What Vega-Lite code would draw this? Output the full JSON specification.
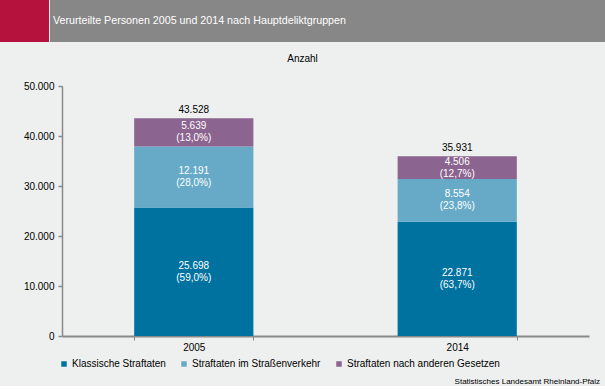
{
  "$schema": "https://vega.github.io/schema/vega-lite/v6.json",
  "background": "#eef0ef",
  "padding": 0,
  "config": {
    "font": "Liberation Sans",
    "view": {"stroke": null},
    "locale": {"number": {"decimal": ",", "thousands": ".", "grouping": [3], "currency": ["", " €"]}}
  },
  "title": {"text": "Statistisches Landesamt Rheinland-Pfalz", "orient": "bottom", "anchor": "end", "fontSize": 8, "fontWeight": "normal", "color": "#000000", "baseline": "middle", "offset": 13, "dx": -5},
  "concat": [
    {
      "hconcat": [
        {
          "width": 49, "height": 42,
          "view": {"fill": "#b5123e", "stroke": null},
          "data": {"values": [{"leer": ""}]},
          "mark": {"type": "text"},
          "encoding": {"text": {"field": "leer", "type": "nominal"}}
        },
        {
          "width": 555, "height": 42,
          "view": {"fill": "#878787", "stroke": null},
          "title": {"text": "Verurteilte Personen 2005 und 2014 nach Hauptdeliktgruppen", "anchor": "start", "orient": "top", "offset": -32, "baseline": "middle", "fontSize": 10.7, "fontWeight": "normal", "color": "#ffffff", "dx": 3},
          "data": {"values": [{"leer": ""}]},
          "mark": {"type": "text"},
          "encoding": {"text": {"field": "leer", "type": "nominal"}}
        }
      ],
      "spacing": 1
    },
    {
      "width": 605,
      "height": 294,
      "title": {"text": "Anzahl", "fontSize": 10, "fontWeight": "normal", "color": "#000000", "anchor": "middle", "baseline": "middle", "offset": -27},
      "data": {"values": [
        {"jahr": "2005", "gruppe": "Klassische Straftaten", "anzahl": 25698, "anteil": "(59,0%)"},
        {"jahr": "2005", "gruppe": "Straftaten im Straßenverkehr", "anzahl": 12191, "anteil": "(28,0%)"},
        {"jahr": "2005", "gruppe": "Straftaten nach anderen Gesetzen", "anzahl": 5639, "anteil": "(13,0%)"},
        {"jahr": "2014", "gruppe": "Klassische Straftaten", "anzahl": 22871, "anteil": "(63,7%)"},
        {"jahr": "2014", "gruppe": "Straftaten im Straßenverkehr", "anzahl": 8554, "anteil": "(23,8%)"},
        {"jahr": "2014", "gruppe": "Straftaten nach anderen Gesetzen", "anzahl": 4506, "anteil": "(12,7%)"}
      ]},
      "transform": [
        {"stack": "anzahl", "groupby": ["jahr"], "sort": [{"field": "gruppe", "order": "ascending"}], "as": ["y0", "y1"]},
        {"calculate": "(datum.y0 + datum.y1) / 2", "as": "ymid"}
      ],
      "encoding": {
        "x": {
          "field": "jahr", "type": "nominal",
          "scale": {"range": [62, 589], "paddingInner": 0.5475, "paddingOuter": 0.274},
          "axis": {"title": null, "labelAngle": 0, "labelFontSize": 10, "labelColor": "#000000", "labelPadding": 2, "domainColor": "#888888", "domainWidth": 2, "tickColor": "#888888", "tickWidth": 1, "tickSize": 4, "tickBand": "extent", "grid": false}
        }
      },
      "layer": [
        {
          "mark": {"type": "bar"},
          "encoding": {
            "y": {
              "field": "y0", "type": "quantitative",
              "scale": {"domain": [0, 50000], "range": [294, 44], "nice": false, "zero": true},
              "axis": {"title": null, "offset": -62, "values": [0, 10000, 20000, 30000, 40000, 50000], "format": ",d", "labelFontSize": 10, "labelColor": "#000000", "labelPadding": 4, "domainColor": "#888888", "domainWidth": 1.5, "tickColor": "#888888", "tickWidth": 1.5, "tickSize": 4, "grid": false}
            },
            "y2": {"field": "y1"},
            "color": {
              "field": "gruppe", "type": "nominal",
              "scale": {"domain": ["Klassische Straftaten", "Straftaten im Straßenverkehr", "Straftaten nach anderen Gesetzen"], "range": ["#00729f", "#66aac8", "#8b648f"]},
              "legend": {"title": null, "orient": "none", "legendX": 59, "legendY": 359, "direction": "horizontal", "symbolType": "square", "symbolSize": 30, "symbolStrokeWidth": 0, "labelFontSize": 10, "labelColor": "#000000", "labelOffset": 3, "columnPadding": 13}
            }
          }
        },
        {
          "mark": {"type": "text", "color": "#ffffff", "fontSize": 10, "baseline": "middle", "dy": -6},
          "encoding": {
            "y": {"field": "ymid", "type": "quantitative"},
            "text": {"field": "anzahl", "type": "quantitative", "format": ",d"}
          }
        },
        {
          "mark": {"type": "text", "color": "#ffffff", "fontSize": 10, "baseline": "middle", "dy": 6},
          "encoding": {
            "y": {"field": "ymid", "type": "quantitative"},
            "text": {"field": "anteil", "type": "nominal"}
          }
        },
        {
          "transform": [{"aggregate": [{"op": "sum", "field": "anzahl", "as": "gesamt"}], "groupby": ["jahr"]}],
          "mark": {"type": "text", "color": "#000000", "fontSize": 10, "baseline": "bottom", "dy": -3},
          "encoding": {
            "y": {"field": "gesamt", "type": "quantitative"},
            "text": {"field": "gesamt", "type": "quantitative", "format": ",d"}
          }
        }
      ]
    }
  ],
  "columns": 1,
  "spacing": 0
}
